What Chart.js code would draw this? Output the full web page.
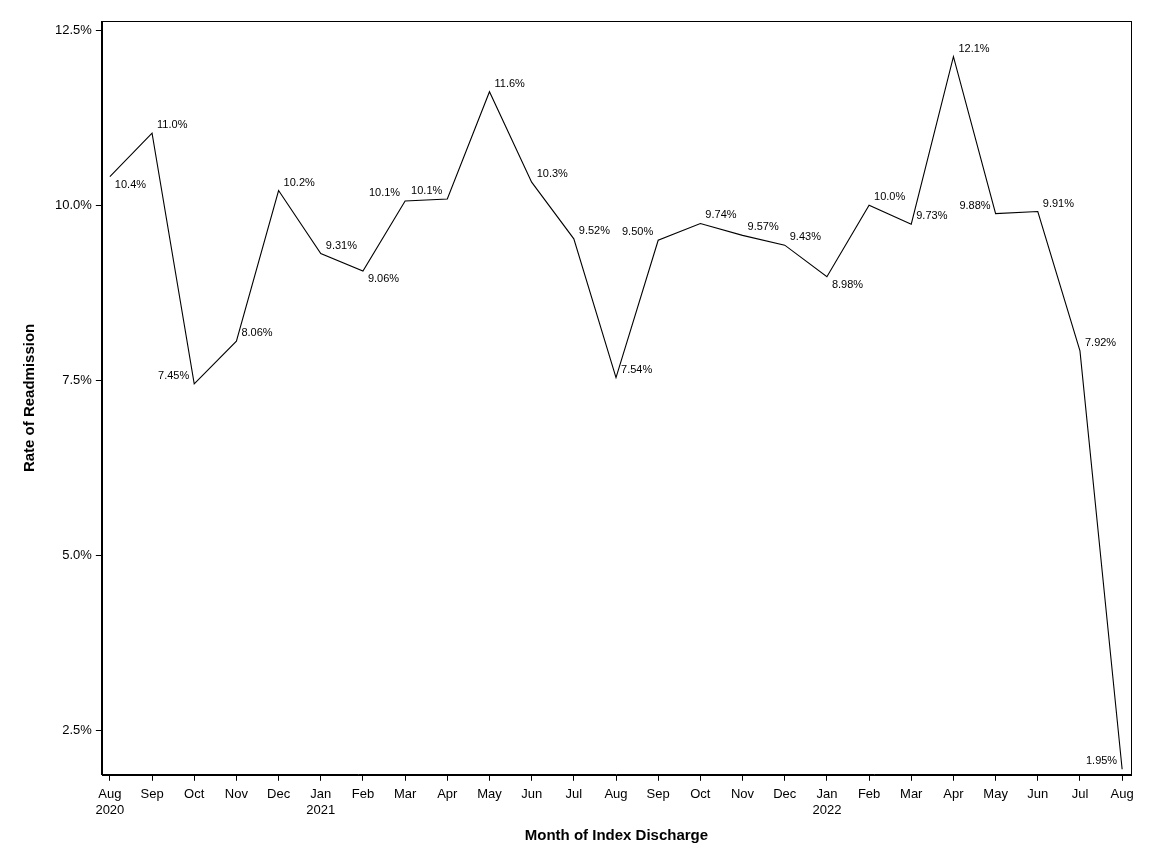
<!DOCTYPE html>
<html>
<head>
<meta charset="utf-8">
<script src="https://cdn.jsdelivr.net/npm/chart.js@4"></script>
<style>
  html, body { margin: 0; padding: 0; background: #fff; }
  #wrap { width: 1152px; height: 864px; }
</style>
</head>
<body>
<div id="wrap"><canvas id="myChart" width="1152" height="864"></canvas></div>
<script>
// chart data
const months = ['Aug', 'Sep', 'Oct', 'Nov', 'Dec', 'Jan', 'Feb', 'Mar', 'Apr', 'May', 'Jun', 'Jul',
  'Aug', 'Sep', 'Oct', 'Nov', 'Dec', 'Jan', 'Feb', 'Mar', 'Apr', 'May', 'Jun', 'Jul', 'Aug'];
const years = ['2020', '', '', '', '', '2021', '', '', '', '', '', '',
  '', '', '', '', '', '2022', '', '', '', '', '', '', ''];
const rates = [10.41, 11.03, 7.45, 8.06, 10.21, 9.31, 9.06, 10.06, 10.09, 11.62, 10.33, 9.52,
  7.54, 9.50, 9.74, 9.57, 9.43, 8.98, 10.0, 9.73, 12.12, 9.88, 9.91, 7.92, 1.95];
const rateLabels = ['10.4%', '11.0%', '7.45%', '8.06%', '10.2%', '9.31%', '9.06%', '10.1%', '10.1%',
  '11.6%', '10.3%', '9.52%', '7.54%', '9.50%', '9.74%', '9.57%', '9.43%', '8.98%', '10.0%',
  '9.73%', '12.1%', '9.88%', '9.91%', '7.92%', '1.95%'];
const yTicks = [2.5, 5.0, 7.5, 10.0, 12.5];

// where each value label sits around its point (a = above, b = below, l/r = side)
const labelSpots = ['br', 'ar', 'al', 'ar', 'ar', 'ar', 'br', 'al', 'al', 'ar', 'ar', 'ar',
  'ar', 'al', 'ar', 'ar', 'ar', 'br', 'ar', 'ar', 'ar', 'al', 'ar', 'ar', 'al'];

const FONT = '"Liberation Sans", Arial, sans-serif';

// frame round the plot
const frame = {
  id: 'frame',
  afterDraw(chart) {
    const a = chart.chartArea;
    const c = chart.ctx;
    c.save();
    c.strokeStyle = '#000';
    c.lineWidth = 1;
    c.strokeRect(Math.round(a.left) + 0.5, Math.round(a.top) + 0.5,
      Math.round(a.right - a.left), Math.round(a.bottom - a.top));
    c.restore();
  }
};

// value labels
const valueLabels = {
  id: 'valueLabels',
  afterDatasetsDraw(chart) {
    const c = chart.ctx;
    const pts = chart.getDatasetMeta(0).data;
    c.save();
    c.font = '11px ' + FONT;
    c.fillStyle = '#000';
    c.textBaseline = 'middle';
    pts.forEach(function (p, i) {
      const spot = labelSpots[i];
      const dy = spot[0] === 'a' ? -8 : 8;
      if (spot[1] === 'r') {
        c.textAlign = 'left';
        c.fillText(rateLabels[i], p.x + 5, p.y + dy);
      } else {
        c.textAlign = 'right';
        c.fillText(rateLabels[i], p.x - 5, p.y + dy);
      }
    });
    c.restore();
  }
};

const ctx = document.getElementById('myChart').getContext('2d');

// eslint-disable-next-line
const chart = new Chart(ctx, {
  type: 'line',
  data: {
    datasets: [
      {
        label: 'Rate of Readmission',
        data: rates.map(function (v, i) { return { x: i, y: v }; }),
        borderColor: '#000',
        borderWidth: 1.1,
        pointRadius: 0,
        tension: 0,
        fill: false,
      },
    ],
  },
  options: {
    responsive: false,
    animation: false,
    layout: { padding: { top: 21, right: 21, left: 17, bottom: 15 } },
    plugins: {
      legend: { display: false },
      tooltip: { enabled: false },
    },
    scales: {
      x: {
        type: 'linear',
        min: -0.19,
        max: 24.21,
        afterBuildTicks(axis) {
          axis.ticks = months.map(function (m, i) { return { value: i }; });
        },
        ticks: {
          autoSkip: false,
          maxRotation: 0,
          color: '#000',
          font: { family: FONT, size: 13 },
          padding: 6,
          callback: function (v) {
            return years[v] ? [months[v], years[v]] : months[v];
          },
        },
        grid: { drawOnChartArea: false, drawTicks: true, tickLength: 6, color: '#000' },
        border: { display: true, color: '#000' },
        title: {
          display: true,
          text: 'Month of Index Discharge',
          color: '#000',
          font: { family: FONT, size: 15, weight: 'bold' },
          padding: { top: 3 },
        },
      },
      y: {
        type: 'linear',
        min: 1.87,
        max: 12.63,
        afterBuildTicks(axis) {
          axis.ticks = yTicks.map(function (v) { return { value: v }; });
        },
        ticks: {
          color: '#000',
          font: { family: FONT, size: 13 },
          padding: 4,
          callback: function (v) { return v.toFixed(1) + '%'; },
        },
        grid: { drawOnChartArea: false, drawTicks: true, tickLength: 6, color: '#000' },
        border: { display: true, color: '#000' },
        title: {
          display: true,
          text: 'Rate of Readmission',
          color: '#000',
          font: { family: FONT, size: 15, weight: 'bold' },
          padding: { bottom: 12 },
        },
      },
    },
  },
  plugins: [frame, valueLabels],
});
</script>
</body>
</html>
